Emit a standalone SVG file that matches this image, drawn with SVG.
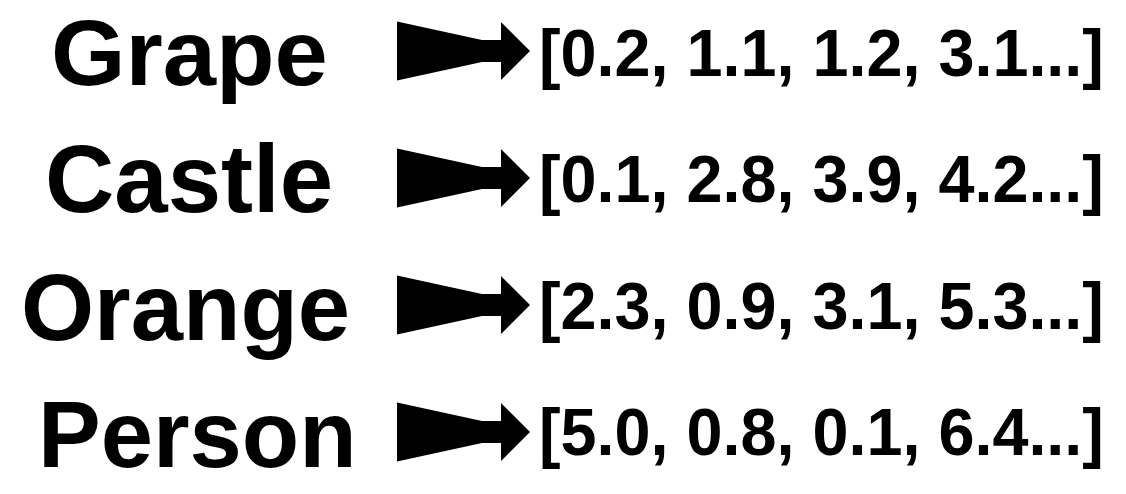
<svg xmlns="http://www.w3.org/2000/svg" width="1126" height="494" viewBox="0 0 1126 494">
<style>
.w{font-family:"Liberation Sans",Arial,sans-serif;font-weight:bold;fill:#000}
.v{font-family:"Liberation Sans",Arial,sans-serif;font-weight:bold;font-size:66px;fill:#000}
.arr{fill:#000}
</style>
<defs>
<path id="arrow" d="M397,-29.5 L482,-11 L501,-11 L501,-29 L530,0 L501,29 L501,11 L482,11 L397,29.5 Z"/>
</defs>
<rect width="1126" height="494" fill="#fff"/>
<g id="row1"><text class="w" font-size="93" transform="translate(51 85) scale(1.03 1)">Grape</text><text class="v" transform="translate(539 76) scale(0.981 1)">[0.2, 1.1, 1.2, 3.1...]</text></g>
<g id="row2"><text class="w" x="45" y="212" font-size="96">Castle</text><text class="v" transform="translate(539 202) scale(0.981 1)">[0.1, 2.8, 3.9, 4.2...]</text></g>
<g id="row3"><text class="w" x="21" y="340" font-size="94">Orange</text><text class="v" transform="translate(539 329) scale(0.981 1)">[2.3, 0.9, 3.1, 5.3...]</text></g>
<g id="row4"><text class="w" x="38" y="467" font-size="94">Person</text><text class="v" transform="translate(539 455) scale(0.981 1)">[5.0, 0.8, 0.1, 6.4...]</text></g>
<g id="connectors" class="arr">
<use href="#arrow" y="51"/>
<use href="#arrow" y="178"/>
<use href="#arrow" y="305"/>
<use href="#arrow" y="432"/>
</g>
</svg>
